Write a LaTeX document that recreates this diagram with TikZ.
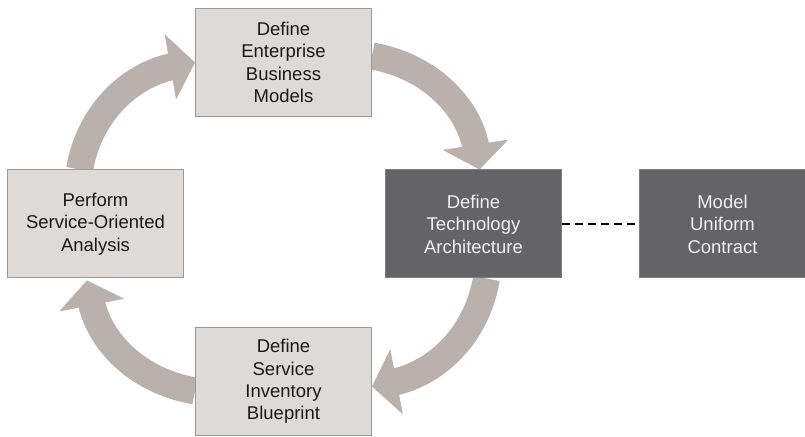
\documentclass[tikz,border=0pt]{standalone}
\usepackage{fontspec}
\setmainfont{Liberation Sans}
\usepackage{xcolor}
\definecolor{boxfill}{HTML}{DEDAD8}
\definecolor{boxline}{HTML}{9C9896}
\definecolor{darkfill}{HTML}{646466}
\definecolor{darkline}{HTML}{7E7E80}
\definecolor{arrowgray}{HTML}{BAB1AD}
\usepackage{tikz}
\usetikzlibrary{arrows.meta,positioning,backgrounds}

\begin{document}
\begin{tikzpicture}[
  x=1pt,y=1pt,
  box/.style={draw=boxline,line width=1pt,fill=boxfill,align=center,minimum width=176pt,minimum height=108pt,inner sep=0pt,text=black!90,font=\fontsize{18.5}{22.4}\selectfont},
  darkbox/.style={box,draw=darkline,fill=darkfill,text=white!94!black},
  cycarrow/.style={draw=arrowgray,line width=27pt,shorten >=20pt,postaction={draw=arrowgray,line width=0.5pt,shorten >=0pt,-{Triangle[length=25pt,width=66pt]}}},
  link/.style={draw=black,line width=1.2pt,dash pattern=on 8pt off 5pt}
]
\useasboundingbox (0,0) rectangle (805,436);
\node[box] (analysis) at (95.5,212) {Perform\\Service-Oriented\\Analysis};
\node[darkbox,right=201pt of analysis] (techarch) {Define\\Technology\\Architecture};
\node[darkbox,right=77pt of techarch,minimum width=166pt] (contract) {Model\\Uniform\\Contract};
\node[box] (business) at (283.5,373.5) {Define\\Enterprise\\Business\\Models};
\node[box] (inventory) at (283.5,54.5) {Define\\Service\\Inventory\\Blueprint};
\draw[link] (techarch) -- (contract);
\begin{scope}[on background layer]
\fill[white] (0,0) rectangle (805,436);
\draw[cycarrow] ([xshift=-16pt]analysis.north) to[out=80,in=190] (business.west);
\draw[cycarrow] ([yshift=6.5pt]business.east) to[out=-10,in=99] ([xshift=6pt]techarch.north);
\draw[cycarrow] ([xshift=13pt]techarch.south) to[out=-100,in=11] ([yshift=-5pt]inventory.east);
\draw[cycarrow] ([yshift=-9.5pt]inventory.west) to[out=170,in=-79] ([xshift=-8.5pt,yshift=-2pt]analysis.south);
\end{scope}
\end{tikzpicture}
\end{document}
